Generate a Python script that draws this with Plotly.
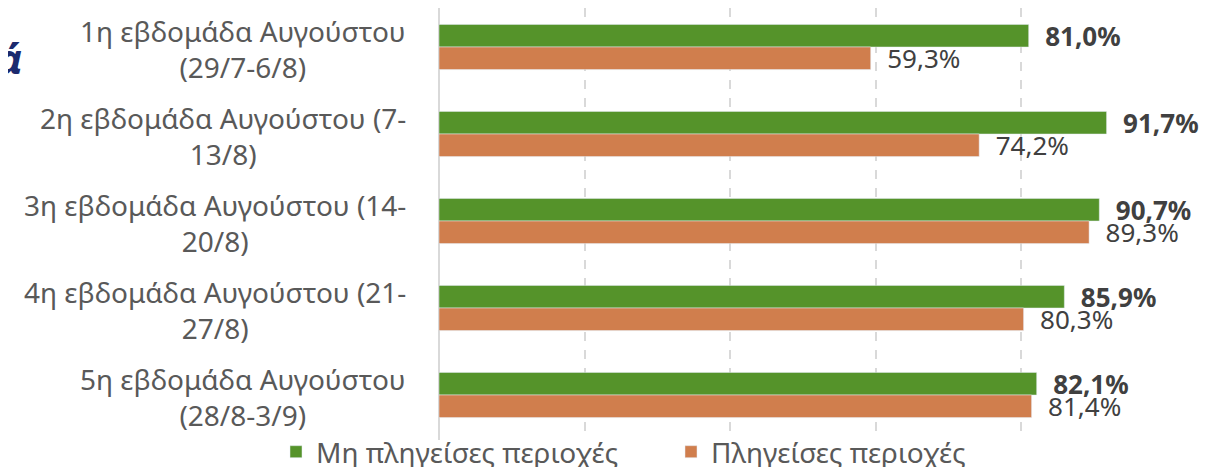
import plotly.graph_objects as go

# weeks of August (category labels, two lines each)
weeks = [
    "1η εβδομάδα Αυγούστου<br>(29/7-6/8)",
    "2η εβδομάδα Αυγούστου (7-<br>13/8)",
    "3η εβδομάδα Αυγούστου (14-<br>20/8)",
    "4η εβδομάδα Αυγούστου (21-<br>27/8)",
    "5η εβδομάδα Αυγούστου<br>(28/8-3/9)",
]
not_affected = [81.0, 91.7, 90.7, 85.9, 82.1]
affected = [59.3, 74.2, 89.3, 80.3, 81.4]
series_names = ["Μη πληγείσες περιοχές", "Πληγείσες περιοχές"]

# the page adds an 8px body margin; the figure is a bit taller than the window
# so the legend has room below the plot without squeezing it
W, H = 1205, 489
L, R, T, B = 431, 46, 0, 57
PW = W - L - R
PH = H - T - B
ROW = 87  # px per category

font = "Noto Sans, Open Sans, sans-serif"


def fmt(v):
    return "  " + f"{v:.1f}".replace(".", ",") + "%"


fig = go.Figure()

fig.add_trace(go.Bar(
    y=weeks,
    x=not_affected,
    orientation="h",
    name=series_names[0],
    marker=dict(color="#55932A"),
    text=[fmt(v) for v in not_affected],
    textposition="outside",
    textfont=dict(family=font, size=26, color="#404040", weight="bold"),
    constraintext="none",
    cliponaxis=False,
))

fig.add_trace(go.Bar(
    y=weeks,
    x=affected,
    orientation="h",
    name=series_names[1],
    marker=dict(color="#D07E4D"),
    text=[fmt(v) for v in affected],
    textposition="outside",
    textfont=dict(family=font, size=26, color="#404040"),
    constraintext="none",
    cliponaxis=False,
))

# category labels, centred on two lines like the original
for w in weeks:
    fig.add_annotation(
        x=0, xref="paper", xanchor="right", xshift=-31,
        y=w, yref="y", yanchor="middle", yshift=-2,
        text=w, showarrow=False, align="center",
        font=dict(family=font, size=28, color="#595959"),
    )

# piece of the slide title that is cut off on the left
fig.add_annotation(
    x=(-13 - L) / PW, xref="paper", xanchor="left",
    y=1 - 50 / PH, yref="paper", yanchor="middle",
    text="<b><i>ά</i></b>", showarrow=False,
    font=dict(family="Noto Sans, sans-serif", size=42, color="#1B2A6E"),
)

top = -39 / ROW
fig.update_layout(
    width=W,
    height=H,
    margin=dict(l=L, r=R, t=T, b=B),
    paper_bgcolor="white",
    plot_bgcolor="white",
    barmode="group",
    bargap=0.48,
    bargroupgap=0,
    showlegend=True,
    legend=dict(
        orientation="h",
        x=(268 - L) / PW, xanchor="left",
        y=-12 / PH, yanchor="middle",
        font=dict(family=font, size=28, color="#595959"),
        itemwidth=30,
        entrywidth=350,
        traceorder="normal",
        bgcolor="rgba(0,0,0,0)",
    ),
    xaxis=dict(
        range=[0, 100],
        dtick=20,
        showticklabels=False,
        showgrid=True,
        gridcolor="#D9D9D9",
        griddash="dash",
        gridwidth=1.5,
        zeroline=True,
        zerolinecolor="#D9D9D9",
        zerolinewidth=1.5,
        fixedrange=True,
    ),
    yaxis=dict(
        range=[top + PH / ROW, top],
        showticklabels=False,
        showgrid=False,
        zeroline=False,
        fixedrange=True,
    ),
)

fig.write_html("out.html")
